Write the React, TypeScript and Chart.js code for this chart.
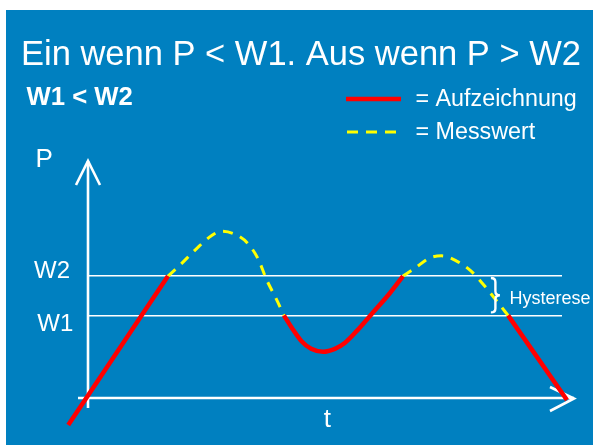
import React, { useEffect, useRef } from "react";
import { Chart, registerables } from "chart.js";

Chart.register(...registerables);

// ---- text ----
const TITLE = "Ein wenn P < W1. Aus wenn P > W2";
const SUBTITLE = "W1 < W2";
const SERIES_NAMES = ["Aufzeichnung", "Messwert"];
const AXIS_X_LABEL = "t";
const AXIS_Y_LABEL = "P";
const THRESHOLD_LABELS = ["W1", "W2"];
const HYSTERESIS_LABEL = "Hysterese";

// ---- data ----
const THRESHOLDS = [4.2, 6.2]; // W1, W2
const TIMES = [
  -1.0, 4.05, 4.6, 5.5, 6.25, 6.75, 7.5, 8.1, 8.6, 9.05, 9.55, 9.92, 10.3, 10.8,
  11.3, 11.9, 12.5, 13.0, 13.6, 14.3, 15.3, 15.95, 16.55, 17.3, 17.9, 18.6, 19.4,
  20.2, 20.8, 21.27, 24.25,
];
const VALUES = [
  -1.37, 6.2, 6.7, 7.6, 8.25, 8.48, 8.3, 7.85, 7.1, 6.0, 5.0, 4.2, 3.6, 2.9, 2.5,
  2.35, 2.5, 2.8, 3.4, 4.2, 5.35, 6.2, 6.6, 7.12, 7.23, 7.0, 6.45, 5.55, 4.8, 4.2,
  -0.1,
];
// 1 = segment from point i to i+1 is recorded (Aufzeichnung), 0 = only measured
const RECORDED = [
  1, 0, 0, 0, 0, 0, 0, 0, 0, 0, 0, 1, 1, 1, 1, 1, 1, 1, 1, 1, 1, 0, 0, 0, 0, 0, 0,
  0, 0, 1,
];

const BLUE = "#0080c0";
const RED = "#ff0000";
const YELLOW = "#ffff00";
const FONT = "'Liberation Sans', Arial, sans-serif";

function buildSeries(wantRecorded: boolean) {
  return TIMES.map((t, i) => {
    const after = i < RECORDED.length ? RECORDED[i] === 1 : null;
    const before = i > 0 ? RECORDED[i - 1] === 1 : null;
    const inc = after === wantRecorded || before === wantRecorded;
    return { x: t, y: inc ? VALUES[i] : null };
  });
}

const decorPlugin = {
  id: "decor",
  beforeDraw(chart: any) {
    const ctx = chart.ctx;
    ctx.save();
    ctx.fillStyle = "#ffffff";
    ctx.fillRect(0, 0, chart.width, chart.height);
    ctx.fillStyle = BLUE;
    ctx.fillRect(6, 10, chart.width - 6, chart.height - 10);
    ctx.restore();
  },
  beforeDatasetsDraw(chart: any) {
    const ctx = chart.ctx;
    const xs = chart.scales.x;
    const ys = chart.scales.y;
    const ox = xs.getPixelForValue(0);
    const oy = ys.getPixelForValue(0);
    const top = chart.chartArea.top;
    const right = chart.chartArea.right;
    ctx.save();
    ctx.strokeStyle = "#ffffff";
    ctx.lineWidth = 2.6;
    ctx.lineCap = "butt";
    // y axis
    ctx.beginPath();
    ctx.moveTo(ox, oy + 10);
    ctx.lineTo(ox, top - 1);
    ctx.stroke();
    ctx.beginPath();
    ctx.moveTo(ox - 12, top + 23);
    ctx.lineTo(ox, top - 1);
    ctx.lineTo(ox + 12, top + 23);
    ctx.stroke();
    // x axis
    ctx.beginPath();
    ctx.moveTo(ox - 10, oy);
    ctx.lineTo(right + 12, oy);
    ctx.stroke();
    ctx.beginPath();
    ctx.moveTo(right - 12, oy - 11);
    ctx.lineTo(right + 12, oy + 0.5);
    ctx.lineTo(right - 12, oy + 13);
    ctx.stroke();
    ctx.restore();
  },
  afterDraw(chart: any) {
    const ctx = chart.ctx;
    const xs = chart.scales.x;
    const ys = chart.scales.y;
    ctx.save();
    ctx.fillStyle = "#ffffff";
    ctx.textBaseline = "alphabetic";
    ctx.textAlign = "left";
    // title
    ctx.font = `34.5px ${FONT}`;
    ctx.fillText(TITLE, 21, 65);
    ctx.font = `bold 25.7px ${FONT}`;
    ctx.fillText(SUBTITLE, 26.5, 105);
    // legend
    ctx.strokeStyle = RED;
    ctx.lineWidth = 4.5;
    ctx.beginPath();
    ctx.moveTo(346, 99);
    ctx.lineTo(401, 99);
    ctx.stroke();
    ctx.strokeStyle = YELLOW;
    ctx.lineWidth = 3;
    ctx.setLineDash([11, 8]);
    ctx.beginPath();
    ctx.moveTo(347, 132);
    ctx.lineTo(397, 132);
    ctx.stroke();
    ctx.setLineDash([]);
    ctx.font = `23.3px ${FONT}`;
    ctx.fillText("= " + SERIES_NAMES[0], 415.5, 106);
    ctx.fillText("= " + SERIES_NAMES[1], 415.5, 138.5);
    // axis labels
    ctx.font = `26px ${FONT}`;
    ctx.fillText(AXIS_Y_LABEL, 35.5, 167);
    ctx.textAlign = "center";
    ctx.fillText(AXIS_X_LABEL, 327.3, 426.5);
    ctx.textAlign = "left";
    // threshold labels
    ctx.font = `24px ${FONT}`;
    const w1 = ys.getPixelForValue(THRESHOLDS[0]);
    const w2 = ys.getPixelForValue(THRESHOLDS[1]);
    ctx.fillText(THRESHOLD_LABELS[1], 34, w2 + 1.5);
    ctx.fillText(THRESHOLD_LABELS[0], 37.3, w1 + 15.5);
    // hysteresis brace
    const bx0 = xs.getPixelForValue(20.4);
    const xm = bx0 + 4.5;
    const xt = bx0 + 9;
    const bt = w2 + 2;
    const bb = w1 - 3;
    const mid = (bt + bb) / 2;
    ctx.strokeStyle = "#ffffff";
    ctx.lineWidth = 2.4;
    ctx.beginPath();
    ctx.moveTo(bx0, bt);
    ctx.quadraticCurveTo(xm, bt, xm, bt + 4);
    ctx.lineTo(xm, mid - 4);
    ctx.quadraticCurveTo(xm, mid, xt, mid);
    ctx.quadraticCurveTo(xm, mid, xm, mid + 4);
    ctx.lineTo(xm, bb - 4);
    ctx.quadraticCurveTo(xm, bb, bx0, bb);
    ctx.stroke();
    ctx.font = `18px ${FONT}`;
    ctx.fillText(HYSTERESIS_LABEL, 509.5, 304);
    ctx.restore();
  },
};

export default function App() {
  const ref = useRef<HTMLCanvasElement>(null);
  useEffect(() => {
    if (!ref.current) return;
    const chart = new Chart(ref.current, {
      type: "line",
      data: {
        datasets: [
          {
            label: SERIES_NAMES[0],
            data: buildSeries(true),
            borderColor: RED,
            borderWidth: 4.5,
            pointRadius: 0,
            cubicInterpolationMode: "monotone",
            spanGaps: false,
            clip: false,
            fill: false,
          },
          {
            label: SERIES_NAMES[1],
            data: buildSeries(false),
            borderColor: YELLOW,
            borderWidth: 3,
            borderDash: [10, 8],
            pointRadius: 0,
            cubicInterpolationMode: "monotone",
            spanGaps: false,
            clip: false,
            fill: false,
          },
        ],
      },
      options: {
        responsive: false,
        animation: false,
        devicePixelRatio: 1,
        layout: { padding: { left: 88, right: 31, top: 162, bottom: 47 } },
        plugins: {
          legend: { display: false },
          tooltip: { enabled: false },
          title: { display: false },
        },
        scales: {
          x: { type: "linear", min: 0, max: 24, display: false },
          y: {
            type: "linear",
            min: 0,
            max: 12,
            display: true,
            afterBuildTicks: (s: any) => {
              s.ticks = THRESHOLDS.map((v) => ({ value: v }));
            },
            ticks: { display: false },
            border: { display: false },
            grid: {
              color: "#ffffff",
              lineWidth: 1.4,
              drawTicks: false,
            },
          },
        },
      },
      plugins: [decorPlugin],
    } as any);
    return () => chart.destroy();
  }, []);
  return (
    <div style={{ position: "fixed", left: 0, top: 0, width: 593, height: 445 }}>
      <canvas ref={ref} width={593} height={445} style={{ display: "block" }} />
    </div>
  );
}
